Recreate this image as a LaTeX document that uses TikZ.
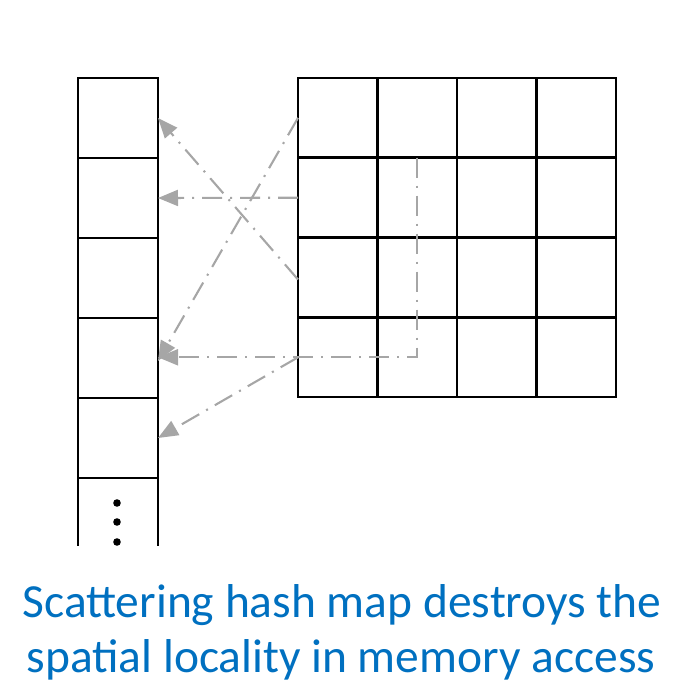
\documentclass[tikz,border=0pt]{standalone}
\usepackage{fontspec}
\setmainfont{Carlito}
\usetikzlibrary{arrows.meta}
\definecolor{linkgray}{HTML}{A6A6A6}
\definecolor{capblue}{HTML}{0070C0}
\begin{document}
\begin{tikzpicture}[x=1pt,y=-1pt,
  cell/.style={draw=black, line width=2.5pt, minimum width=79.5pt, minimum height=79.5pt, inner sep=0pt, outer sep=0pt},
  slot/.style={draw=black, line width=2.5pt, minimum width=80pt, minimum height=80pt, inner sep=0pt, outer sep=0pt},
  link/.style={draw=linkgray, line width=2.1pt, dash pattern=on 20pt off 8pt on 2pt off 8pt,
    -{Triangle[length=20pt,width=16pt]}},
  caption/.style={text=capblue, font=\fontsize{47.5}{55}\selectfont, anchor=base, inner sep=0pt}]
\useasboundingbox (0,0) rectangle (675,684);

% memory column on the left
\foreach \i in {1,...,5} {
  \node[slot] (L\i) at (118, {38 + 80*\i}) {};
}
\coordinate (Ltl) at (78,478);
\coordinate (Ltr) at (158,478);
\coordinate (Lbl) at (78,546);
\coordinate (Lbr) at (158,546);
\draw[line width=2.5pt] (Ltl) -- (Lbl) (Ltr) -- (Lbr);
\foreach \y in {503,522,542} {
  \fill (117,\y) circle (3.8pt);
}

% 4x4 table on the right
\foreach \r in {1,...,4} {
  \foreach \c in {1,...,4} {
    \node[cell] (G\r\c) at ({298 + 79.5*(\c-0.5)}, {78 + 79.8*(\r-0.5)}) {};
  }
}

% scattered mapping from table to memory
\draw[link] (G11.west) -- ([yshift=-3pt]L4.east);
\draw[link] ([yshift=-2pt]G31.west) -- (L1.east);
\draw[link] (G21.west) -- (L2.east);
\draw[link] (G12.south) -- (G12.south |- G42.center) -- (L4.east |- G42.center);
\draw[link] (G41.west) -- (L5.east);

% caption
\node[caption] (cap1) at (342,617) {Scattering hash map destroys the};
\node[caption] (cap2) at (341,672) {spatial locality in memory access};
\end{tikzpicture}
\end{document}
